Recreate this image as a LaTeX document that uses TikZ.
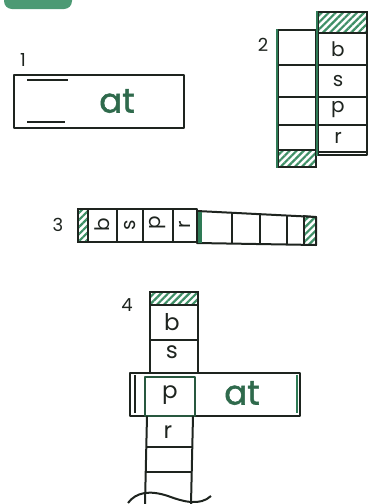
\documentclass[tikz,border=0pt]{standalone}
\usepackage{fontspec}
\setmainfont{Poppins}
\newfontfamily\atfont[FakeBold=1.6]{Poppins}
\usetikzlibrary{patterns.meta}
\definecolor{ink}{HTML}{1E241F}
\definecolor{dgreen}{HTML}{2E7A55}
\definecolor{tgreen}{HTML}{2F6A4C}
\definecolor{hgreen}{HTML}{3E8F66}
\definecolor{badgegreen}{HTML}{4C9A74}
\tikzset{
  cellbox/.style={draw=ink, line width=2pt, line join=round},
  hatchbox/.style={draw=ink, line width=1.6pt, pattern={Lines[angle=45,distance=5pt,line width=2.2pt]}, pattern color=hgreen},
  letter/.style={font=\fontsize{20}{20}\selectfont, text=ink, inner sep=0pt},
  bigletter/.style={font=\fontsize{23}{23}\selectfont, text=ink, inner sep=0pt},
  bigtext/.style={font=\atfont\fontsize{34}{34}\selectfont, text=tgreen, inner sep=0pt},
  numlabel/.style={font=\fontsize{18}{18}\selectfont, text=ink, inner sep=0pt},
  gedge/.style={draw=dgreen, line width=2.4pt},
  bar/.style={draw=ink, line width=1.8pt}
}
\begin{document}
\begin{tikzpicture}[x=1pt,y=-1pt]
\useasboundingbox (0,0) rectangle (373,504);
% badge
\fill[badgegreen, rounded corners=8pt] (4,-12) rectangle (72,9);
\node[coordinate] (badge) at (38,0) {};
% ---------- panel 1
\node[numlabel] (n1) at (23,60) {1};
\node[cellbox, minimum width=170pt, minimum height=53pt, inner sep=0pt] (box1) at (99,101.5) {};
\coordinate (l1a) at (27,80); \coordinate (l1b) at (68,80);
\coordinate (l2a) at (27,122); \coordinate (l2b) at (65,122);
\draw[bar] (l1a) -- (l1b);
\draw[bar] (l2a) -- (l2b);
\node[bigtext] (at1) at (117,101) {at};
% ---------- panel 2
\node[numlabel] (n2) at (263,45) {2};
% left strip
\path[hatchbox] (278,150) rectangle (316,167);
\node[cellbox, minimum width=38pt, minimum height=137pt, inner sep=0pt] (ls2) at (297,98.5) {};
\foreach \y in {65,97,125,150} \draw[bar] (278,\y) -- (316,\y);
% right strip
\path[hatchbox] (318,12) rectangle (367,33);
\node[cellbox, minimum width=49pt, minimum height=143pt, inner sep=0pt] (rs2) at (342.5,83.5) {};
\foreach \y in {33,65,97,125,152} \draw[bar] (318,\y) -- (367,\y);
\draw[gedge] (ls2.north west) -- (ls2.south west);
\draw[gedge] (rs2.north west) -- (rs2.south west);
\node[letter] (b2) at (338,49) {b};
\node[letter] (s2) at (338,81) {s};
\node[letter] (p2) at (338,110) {p};
\node[letter] (r2) at (338,138) {r};
% ---------- panel 3
\node[numlabel] (n3) at (58,225) {3};
\path[hatchbox] (78,209) rectangle (88,242);
\node[cellbox, minimum width=119pt, minimum height=33pt, inner sep=0pt] (ls3) at (137.5,225.5) {};
\foreach \x in {88,117,143,173} \draw[bar] (\x,209) -- (\x,242);
\node[letter, rotate=90] (b3) at (102,225) {b};
\node[letter, rotate=90] (s3) at (130,225) {s};
\node[letter, rotate=90] (p3) at (158,223) {p};
\node[letter, rotate=90] (r3) at (185,225) {r};
\path[hatchbox] (304,216) -- (316,217) -- (316,245) -- (304,245) -- cycle;
\draw[cellbox] (197,211) -- (316,217) -- (316,245) -- (197,243) -- cycle;
\draw[gedge, line width=4pt] (200,211.5) -- (200,242.5);
\draw[bar] (232,213) -- (232,243.5);
\draw[bar] (260,214) -- (260,244);
\draw[bar] (287,215.5) -- (287,244.5);
\draw[bar] (304,216) -- (304,245);
% ---------- panel 4
\node[numlabel] (n4) at (127,305) {4};
\path[hatchbox] (150,292) rectangle (198,305);
\draw[cellbox] (150,372) -- (150,292) -- (198,292) -- (198,372);
\draw[bar] (150,305) -- (198,305);
\draw[bar] (150,340) -- (198,340);
\node[bigletter] (b4) at (172,322) {b};
\node[bigletter] (s4) at (172,352) {s};
\node[cellbox, minimum width=170pt, minimum height=43pt, inner sep=0pt] (band) at (215,394) {};
\draw[bar] (135,375) -- (135,413);
\draw[gedge] (297,375) -- (297,413);
\node[cellbox, draw=dgreen!60!ink, minimum width=50pt, minimum height=39pt, inner sep=0pt] (pbox) at (170,396) {};
\node[bigletter] (p4) at (170,395) {p};
\node[bigtext] (at4) at (242,393) {at};
% lower strip
\draw[cellbox] (147,416) -- (145,504);
\draw[cellbox] (193,416) -- (191,504);
\draw[bar] (146,447) -- (192,447);
\draw[bar] (146,472) -- (192,472);
\node[bigletter] (r4) at (168,432) {r};
\draw[cellbox] (128,503) .. controls (136,492) and (150,490) .. (168,496) .. controls (184,502) and (200,506) .. (211,496);
\end{tikzpicture}
\end{document}
